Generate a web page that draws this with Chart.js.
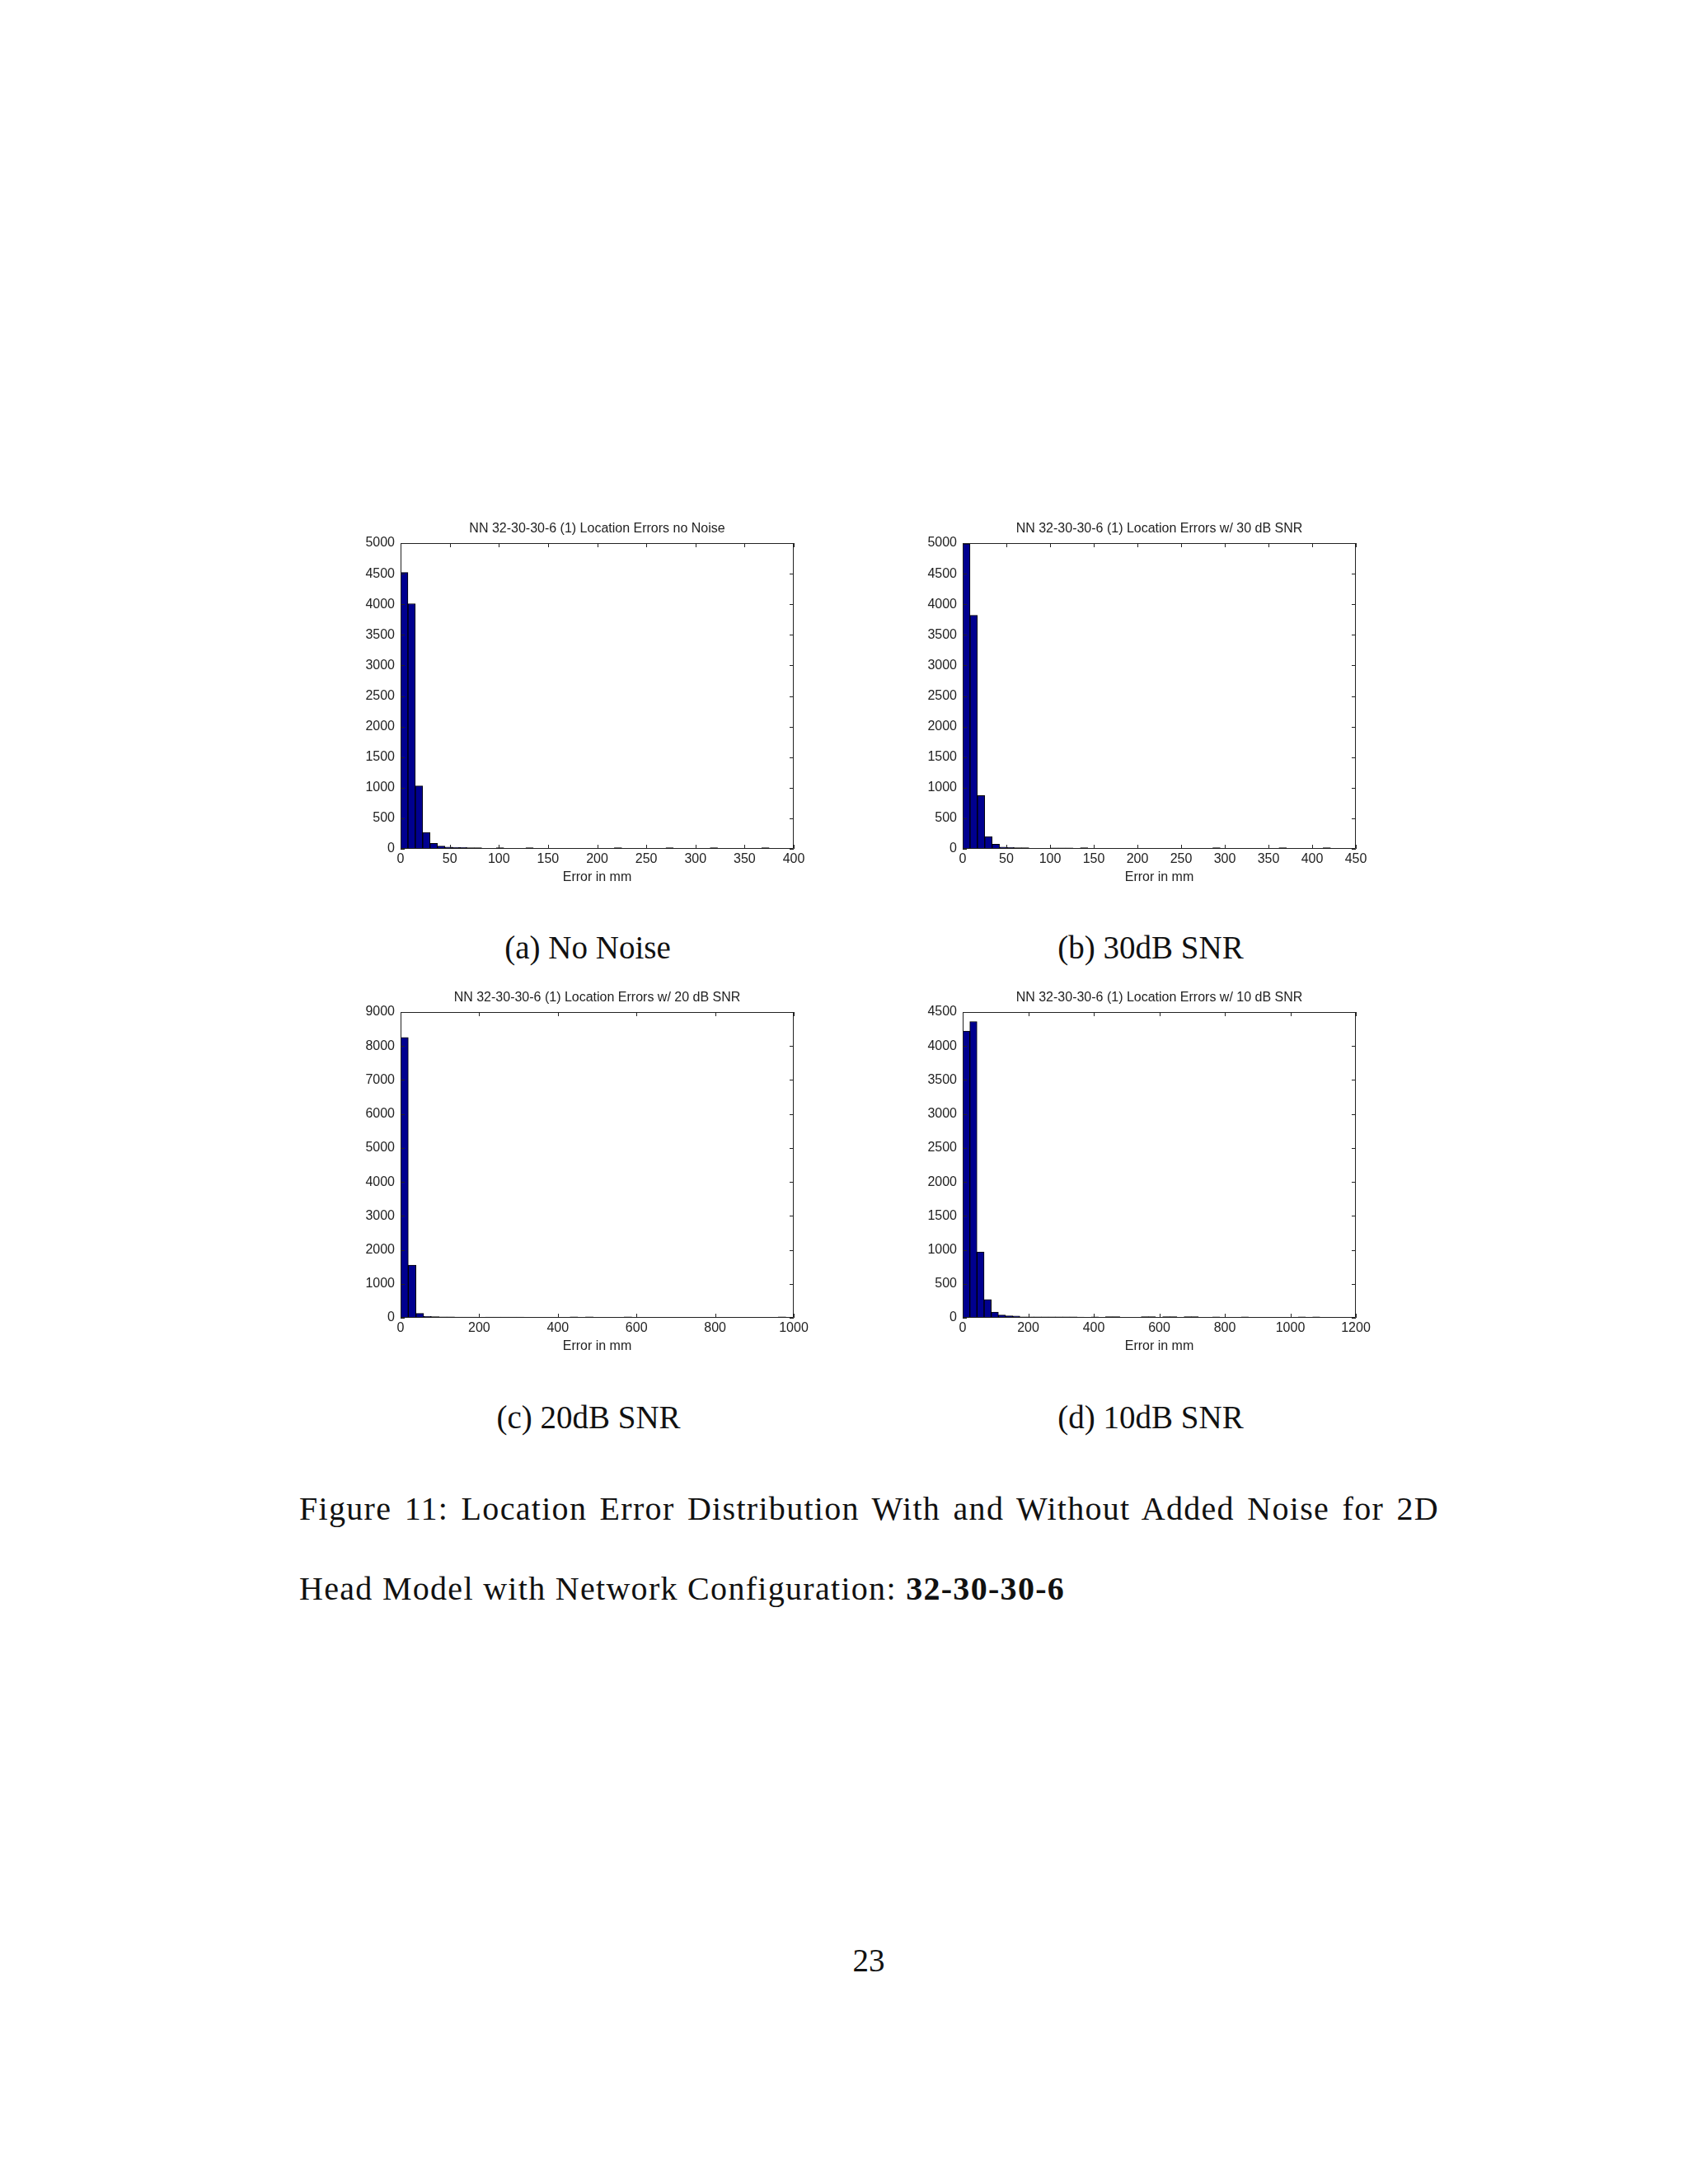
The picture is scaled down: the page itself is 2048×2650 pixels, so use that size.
<!DOCTYPE html>
<html>
<head>
<meta charset="utf-8">
<script src="https://cdn.jsdelivr.net/npm/chart.js@4.4.1/dist/chart.umd.min.js"></script>
<style>
  body { margin: 0; background: #fff; width: 2048px; height: 2650px; position: relative; overflow: hidden; }
  canvas { position: absolute; }
  .tex { position: absolute; font-family: "Liberation Serif", serif; font-size: 39px; line-height: 39px; color: #111; white-space: nowrap; }
  .sub { width: 400px; text-align: center; }
  .cap { font-size: 40px; line-height: 40px; letter-spacing: 1.3px; }
</style>
</head>
<body>

<canvas id="histA" width="577" height="460" style="left:416px; top:620px;"></canvas>
<canvas id="histB" width="577" height="460" style="left:1098px; top:620px;"></canvas>
<canvas id="histC" width="577" height="460" style="left:416px; top:1189px;"></canvas>
<canvas id="histD" width="577" height="460" style="left:1098px; top:1189px;"></canvas>

<div class="tex sub" style="left:513px; top:1130px;">(a) No Noise</div>
<div class="tex sub" style="left:1196px; top:1130px;">(b) 30dB SNR</div>
<div class="tex sub" style="left:514px; top:1700px;">(c) 20dB SNR</div>
<div class="tex sub" style="left:1196px; top:1700px;">(d) 10dB SNR</div>

<div class="tex cap" style="left:363px; top:1811px; width:1383px; text-align:justify; text-align-last:justify;">Figure 11: Location Error Distribution With and Without Added Noise for 2D</div>
<div class="tex cap" style="left:363px; top:1908px;">Head Model with Network Configuration: <b>32-30-30-6</b></div>

<div class="tex" style="left:1004px; top:2359px; width:100px; text-align:center;">23</div>

<script>
// (a) no noise
const binWidthA = 7.5;
const countsA = [4520, 4010, 1030, 270, 90, 45, 30, 25, 22, 20,
                 18, 0, 0, 20, 0, 0, 0, 20, 0, 0,
                 0, 0, 0, 0, 0, 0, 0, 0, 0, 20,
                 0, 0, 0, 0, 0, 0, 20, 0, 0, 0,
                 0, 0, 20, 0, 0, 0, 0, 0, 0, 20];
const xTicksA = [0, 50, 100, 150, 200, 250, 300, 350, 400];
const yTicksA = [0, 500, 1000, 1500, 2000, 2500, 3000, 3500, 4000, 4500, 5000];

// (b) 30 dB SNR
const binWidthB = 8.42;
const countsB = [4990, 3820, 870, 200, 75, 30, 25, 20, 18, 0,
                 0, 0, 15, 15, 15, 0, 20, 0, 0, 0,
                 0, 0, 0, 0, 0, 0, 0, 0, 0, 0,
                 0, 0, 0, 0, 20, 0, 0, 0, 0, 0,
                 0, 0, 0, 20, 0, 0, 0, 0, 0, 20];
const xTicksB = [0, 50, 100, 150, 200, 250, 300, 350, 400, 450];
const yTicksB = [0, 500, 1000, 1500, 2000, 2500, 3000, 3500, 4000, 4500, 5000];

// (c) 20 dB SNR
const binWidthC = 19.6;
const countsC = [8250, 1550, 130, 40, 35, 30, 28, 25, 22, 20,
                 0, 20, 20, 20, 20, 20, 0, 0, 0, 0,
                 0, 0, 30, 0, 30, 0, 0, 0, 0, 30,
                 0, 0, 0, 0, 0, 0, 0, 0, 0, 0,
                 0, 0, 0, 0, 0, 0, 0, 0, 0, 30];
const xTicksC = [0, 200, 400, 600, 800, 1000];
const yTicksC = [0, 1000, 2000, 3000, 4000, 5000, 6000, 7000, 8000, 9000];

// (d) 10 dB SNR
const binWidthD = 21.8;
const countsD = [4220, 4360, 970, 270, 85, 40, 30, 25, 15, 15,
                 15, 14, 14, 13, 13, 13, 12, 0, 15, 0,
                 18, 18, 0, 0, 0, 18, 18, 0, 18, 18,
                 0, 18, 18, 0, 0, 15, 0, 0, 0, 15,
                 0, 0, 0, 0, 0, 0, 0, 15, 0, 15];
const xTicksD = [0, 200, 400, 600, 800, 1000, 1200];
const yTicksD = [0, 500, 1000, 1500, 2000, 2500, 3000, 3500, 4000, 4500];

const barColor = '#00008f';
const inkColor = '#222';

// draws the axes box and the inward ticks the way matlab does
const matlabBox = {
    id: 'matlabBox',
    afterDatasetsDraw(chart) {
        const { ctx, chartArea: a, scales: { x, y } } = chart;
        ctx.save();
        ctx.strokeStyle = inkColor;
        ctx.lineWidth = 1;
        ctx.beginPath();
        x.ticks.forEach(t => {
            const px = Math.round(x.getPixelForValue(t.value)) + 0.5;
            ctx.moveTo(px, a.bottom); ctx.lineTo(px, a.bottom - 5);
            ctx.moveTo(px, a.top); ctx.lineTo(px, a.top + 5);
        });
        y.ticks.forEach(t => {
            const py = Math.round(y.getPixelForValue(t.value)) + 0.5;
            ctx.moveTo(a.left, py); ctx.lineTo(a.left + 5, py);
            ctx.moveTo(a.right, py); ctx.lineTo(a.right - 5, py);
        });
        ctx.rect(a.left + 0.5, a.top + 0.5, a.width - 1, a.height - 1);
        ctx.stroke();
        ctx.restore();
    }
};

function makeHist(id, title, binWidth, counts, xTicks, yTicks) {
    const data = counts.map((c, i) => ({ x: (i + 0.5) * binWidth, y: c }));
    const font = { family: '"Liberation Sans", Arial, sans-serif', size: 16, weight: 'normal', lineHeight: 1.125 };
    return new Chart(document.getElementById(id), {
        type: 'bar',
        data: {
            datasets: [{
                data: data,
                backgroundColor: barColor,
                borderColor: '#000',
                borderWidth: 1,
                borderSkipped: false,
                barPercentage: 1,
                categoryPercentage: 1
            }]
        },
        options: {
            responsive: false,
            animation: false,
            layout: { padding: { top: 13, right: 30, bottom: 0, left: 0 } },
            plugins: {
                legend: { display: false },
                tooltip: { enabled: false },
                title: {
                    display: true,
                    text: title,
                    fullSize: false,
                    color: inkColor,
                    font: font,
                    padding: { top: 0, bottom: 8 }
                }
            },
            scales: {
                x: {
                    type: 'linear',
                    offset: false,
                    min: xTicks[0],
                    max: xTicks[xTicks.length - 1],
                    afterBuildTicks: s => { s.ticks = xTicks.map(v => ({ value: v })); },
                    afterFit: s => { s.height = 50; },
                    grid: { display: false, drawTicks: false },
                    border: { display: false },
                    ticks: { color: inkColor, font: font, padding: 4, maxRotation: 0, callback: v => String(v) },
                    title: { display: true, text: 'Error in mm', color: inkColor, font: font, padding: { top: 0, bottom: 6 } }
                },
                y: {
                    min: yTicks[0],
                    max: yTicks[yTicks.length - 1],
                    afterBuildTicks: s => { s.ticks = yTicks.map(v => ({ value: v })); },
                    afterFit: s => { s.width = 70; },
                    grid: { display: false, drawTicks: false },
                    border: { display: false },
                    ticks: { color: inkColor, font: font, padding: 7, callback: v => String(v) }
                }
            }
        },
        plugins: [matlabBox]
    });
}

makeHist('histA', 'NN 32-30-30-6 (1) Location Errors no Noise', binWidthA, countsA, xTicksA, yTicksA);
makeHist('histB', 'NN 32-30-30-6 (1) Location Errors w/ 30 dB SNR', binWidthB, countsB, xTicksB, yTicksB);
makeHist('histC', 'NN 32-30-30-6 (1) Location Errors w/ 20 dB SNR', binWidthC, countsC, xTicksC, yTicksC);
makeHist('histD', 'NN 32-30-30-6 (1) Location Errors w/ 10 dB SNR', binWidthD, countsD, xTicksD, yTicksD);
</script>
</body>
</html>
